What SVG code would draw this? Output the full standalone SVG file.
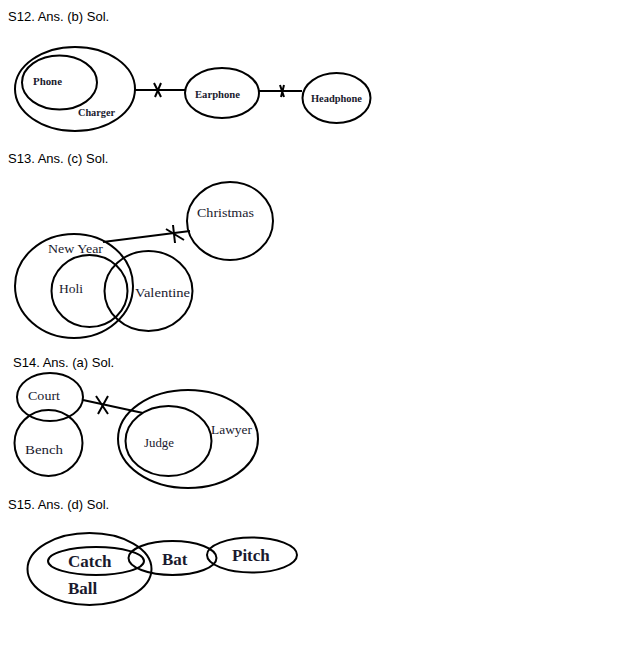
<svg xmlns="http://www.w3.org/2000/svg" width="641" height="645" viewBox="0 0 641 645">
<style>
.t{font-family:"Liberation Sans",Arial,sans-serif;font-size:13px;fill:#000}
.s{fill:none;stroke:#000;stroke-width:2}
.l{font-family:"Liberation Serif","DejaVu Serif",serif;fill:#1a1a2e}
.b12{font-size:11px;font-weight:bold}
.r13{font-size:13px}
.r11{font-size:12.5px}
.b17{font-size:17px;font-weight:bold}
</style>
<rect width="641" height="645" fill="#fff"/>
<text class="t" x="8" y="21">S12. Ans. (b) Sol.</text>
<text class="t" x="8" y="163">S13. Ans. (c) Sol.</text>
<text class="t" x="13" y="367">S14. Ans. (a) Sol.</text>
<text class="t" x="8" y="509">S15. Ans. (d) Sol.</text>

<g id="connectors">
<line class="s" x1="134" y1="90" x2="185" y2="90"/>
<path class="s" d="M154 83 L161 97 M161 83 L155 97"/>
<line class="s" x1="259" y1="91" x2="302" y2="91"/>
<path class="s" d="M280 85 L284 97 M284 85 L281 97"/>
<line class="s" x1="103" y1="242" x2="190" y2="231"/>
<path class="s" d="M166 229 L184 240 M173 225 L175 243"/>
<line class="s" x1="83" y1="400" x2="143" y2="413"/>
<path class="s" d="M96 396 L108 414 M108 396 L98 414"/>
</g>

<g id="charger"><ellipse class="s" cx="75" cy="89" rx="60" ry="42"/><text class="l b12" x="78" y="116" textLength="37" lengthAdjust="spacingAndGlyphs">Charger</text></g>
<g id="phone"><ellipse class="s" cx="59.5" cy="82.5" rx="37.5" ry="27"/><text class="l b12" x="33" y="85" textLength="29" lengthAdjust="spacingAndGlyphs">Phone</text></g>
<g id="earphone"><ellipse class="s" cx="222" cy="93" rx="37" ry="25"/><text class="l b12" x="195" y="98" textLength="45" lengthAdjust="spacingAndGlyphs">Earphone</text></g>
<g id="headphone"><ellipse class="s" cx="336.5" cy="98" rx="34" ry="25"/><text class="l b12" x="311" y="102" textLength="51" lengthAdjust="spacingAndGlyphs">Headphone</text></g>

<g id="christmas"><ellipse class="s" cx="230" cy="221" rx="43" ry="39"/><text class="l r13" x="197" y="217" textLength="57" lengthAdjust="spacingAndGlyphs">Christmas</text></g>
<g id="newyear"><ellipse class="s" cx="74" cy="286" rx="59" ry="52"/><text class="l r13" x="48" y="253" textLength="55" lengthAdjust="spacingAndGlyphs">New Year</text></g>
<g id="holi"><ellipse class="s" cx="89.5" cy="291" rx="38" ry="36"/><text class="l r13" x="59" y="293" textLength="24" lengthAdjust="spacingAndGlyphs">Holi</text></g>
<g id="valentine"><ellipse class="s" cx="148.5" cy="291" rx="44" ry="40"/><text class="l r13" x="135" y="297" textLength="55" lengthAdjust="spacingAndGlyphs">Valentine</text></g>

<g id="court"><ellipse class="s" cx="50" cy="397" rx="33" ry="24"/><text class="l r11" x="28" y="400" textLength="32" lengthAdjust="spacingAndGlyphs">Court</text></g>
<g id="bench"><ellipse class="s" cx="48.5" cy="443" rx="34" ry="33"/><text class="l r11" x="25" y="454" textLength="38" lengthAdjust="spacingAndGlyphs">Bench</text></g>
<g id="lawyer"><ellipse class="s" cx="188" cy="439" rx="70" ry="49"/><text class="l r11" x="211" y="434" textLength="41" lengthAdjust="spacingAndGlyphs">Lawyer</text></g>
<g id="judge"><ellipse class="s" cx="168.5" cy="441" rx="43" ry="35"/><text class="l r11" x="144" y="447" textLength="30" lengthAdjust="spacingAndGlyphs">Judge</text></g>

<g id="ball"><ellipse class="s" cx="89.5" cy="569" rx="62" ry="36"/><text class="l b17" x="68" y="594">Ball</text></g>
<g id="catch"><ellipse class="s" cx="96" cy="561" rx="48" ry="14"/><text class="l b17" x="68" y="567">Catch</text></g>
<g id="bat"><ellipse class="s" cx="172.5" cy="558" rx="44" ry="17"/><text class="l b17" x="162" y="565">Bat</text></g>
<g id="pitch"><ellipse class="s" cx="252" cy="555" rx="45" ry="17.5"/><text class="l b17" x="232" y="561">Pitch</text></g>
</svg>
